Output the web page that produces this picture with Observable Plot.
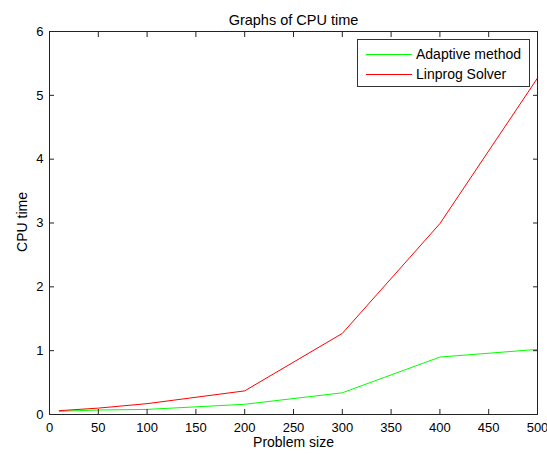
<!DOCTYPE html>
<html>
<head>
<meta charset="utf-8">
<script src="https://cdn.jsdelivr.net/npm/d3@7"></script>
<script src="https://cdn.jsdelivr.net/npm/@observablehq/plot@0.6"></script>
<style>
  html, body { margin: 0; padding: 0; background: #fff; }
  #wrap { position: relative; width: 547px; height: 454px; font-family: "Liberation Sans", Arial, sans-serif; }
  #legend { position: absolute; left: 357px; top: 39px; width: 173px; height: 48px; border: 1px solid #333; background: #fff; box-sizing: border-box; font-size: 14px; }
  .row { position: absolute; left: 0; height: 20px; display: flex; align-items: center; }
  .sw { display: inline-block; width: 46px; height: 0; border-top: 1px solid; margin-left: 8px; margin-right: 4px; }
  #ylabel { position: absolute; left: 22px; top: 222px; width: 100px; height: 16px; line-height: 16px; margin-left: -50px; margin-top: -8px; text-align: center; font-size: 14px; transform: rotate(-90deg); white-space: nowrap; }
</style>
</head>
<body>
<div id="wrap"></div>
<script>
const problemSize = [10, 50, 100, 200, 300, 400, 500];
const adaptive = [0.05, 0.07, 0.08, 0.16, 0.34, 0.90, 1.02];
const linprog = [0.06, 0.10, 0.17, 0.37, 1.27, 2.99, 5.27];
const seriesNames = ["Adaptive method", "Linprog Solver"];
const seriesColors = ["#00ff00", "#ff0000"];
const xTicks = [0, 50, 100, 150, 200, 250, 300, 350, 400, 450, 500];
const yTicks = [0, 1, 2, 3, 4, 5, 6];
const titleText = "Graphs of CPU time";
const xLabel = "Problem size";
const yLabel = "CPU time";

const rows = [];
problemSize.forEach((x, i) => {
  rows.push({x, y: adaptive[i], s: seriesNames[0]});
});
problemSize.forEach((x, i) => {
  rows.push({x, y: linprog[i], s: seriesNames[1]});
});

const font = '"Liberation Sans", Arial, sans-serif';
const chart = Plot.plot({
  width: 547,
  height: 454,
  marginLeft: 49,
  marginRight: 10,
  marginTop: 31,
  marginBottom: 40,
  style: {fontFamily: font, fontSize: "13px", background: "#fff", color: "#000"},
  x: {domain: [0, 500]},
  y: {domain: [0, 6]},
  color: {domain: seriesNames, range: seriesColors},
  marks: [
    Plot.line(rows, {x: "x", y: "y", z: "s", stroke: "s", strokeWidth: 1}),
    Plot.frame({stroke: "#222"}),
    Plot.axisX(xTicks, {anchor: "bottom", tickSize: -5, tickPadding: 13, tickFormat: d => String(d), label: null, stroke: "#222"}),
    Plot.axisX(xTicks, {anchor: "top", tickSize: -5, tickFormat: null, text: null, label: null, stroke: "#222"}),
    Plot.axisY(yTicks, {anchor: "left", tickSize: -5, tickPadding: 11, tickFormat: d => String(d), label: null, stroke: "#222"}),
    Plot.axisY(yTicks, {anchor: "right", tickSize: -5, tickFormat: null, text: null, label: null, stroke: "#222"}),
    Plot.text([titleText], {frameAnchor: "top", dy: -17, fontSize: 14.5, text: d => d}),
    Plot.text([xLabel], {frameAnchor: "bottom", dy: 32, fontSize: 14, text: d => d})
  ]
});

const wrap = document.getElementById("wrap");
wrap.appendChild(chart);

const yl = document.createElement("div");
yl.id = "ylabel";
yl.textContent = yLabel;
wrap.appendChild(yl);

const legend = document.createElement("div");
legend.id = "legend";
seriesNames.forEach((name, i) => {
  const r = document.createElement("div");
  r.className = "row";
  r.style.top = (4 + i * 20) + "px";
  const sw = document.createElement("span");
  sw.className = "sw";
  sw.style.borderTopColor = seriesColors[i];
  const t = document.createElement("span");
  t.textContent = name;
  r.appendChild(sw);
  r.appendChild(t);
  legend.appendChild(r);
});
wrap.appendChild(legend);
</script>
</body>
</html>
